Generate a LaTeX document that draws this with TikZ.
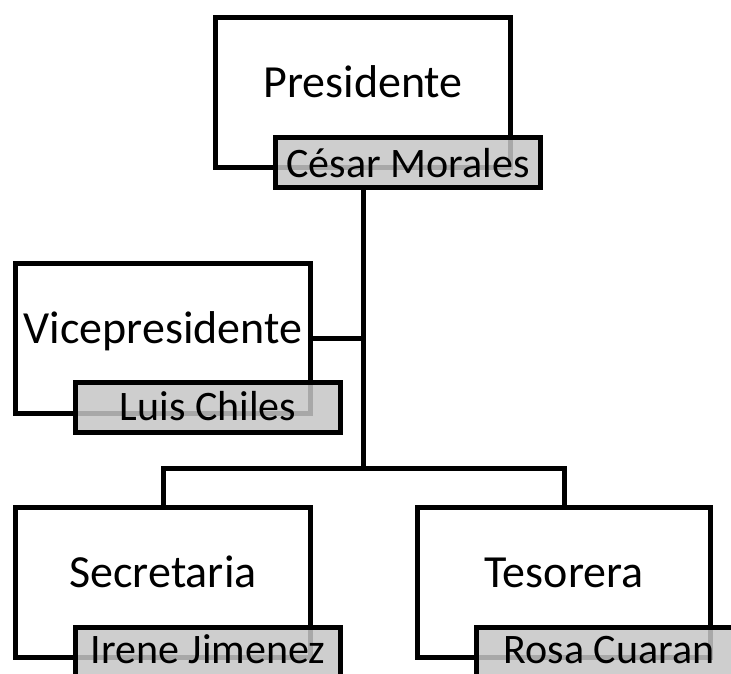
\documentclass[tikz,border=0pt]{standalone}
\usepackage{fontspec}
\setmainfont{Carlito}
\begin{document}
\begin{tikzpicture}[x=1pt,y=-1pt,
  rolebox/.style={draw=black, line width=5pt, fill=white, minimum width=295pt, minimum height=150pt, inner sep=0pt},
  roletext/.style={font=\fontsize{46}{50}\selectfont, inner sep=0pt, anchor=base},
  namebox/.style={draw=black, line width=5pt, fill={rgb,255:red,198;green,198;blue,198}, fill opacity=0.85, minimum width=265pt, minimum height=50pt, inner sep=0pt},
  nametext/.style={font=\fontsize{42}{46}\selectfont, inner sep=0pt, anchor=base, text depth=0pt},
  link/.style={draw=black, line width=5pt}]
\useasboundingbox (0,0) rectangle (731,673);
\clip (0,0) rectangle (731,673);
% role boxes
\node[rolebox] (p) at (363,92) {};
\node[rolebox] (v) at (163,338) {};
\node[rolebox] (s) at (163,582) {};
\node[rolebox, minimum width=293pt] (t) at (564,582) {};
\node[roletext] (pt) at (363,97) {Presidente};
\node[roletext] (vt) at (163,343) {Vicepresidente};
\node[roletext] (st) at (163,587) {Secretaria};
\node[roletext] (tt) at (564,587) {Tesorera};
% connectors
\coordinate (bar) at (363,468);
\path[link] (p.center |- 0,189) -- (bar);
\path[link] (v.east) -- (v.east -| bar);
\path[link] (s.north) |- (bar) -| (t.north);
% name boxes
\node[namebox] (pn) at (408,162) {};
\node[namebox] (vn) at (208,407) {};
\node[namebox] (sn) at (208,652) {};
\node[namebox] (tn) at (609,652) {};
\node[nametext] (pnt) at (408,177) {César Morales};
\node[nametext] (vnt) at (208,420) {Luis Chiles};
\node[nametext] (snt) at (208,663) {Irene Jimenez};
\node[nametext] (tnt) at (609,663) {Rosa Cuaran};
\end{tikzpicture}
\end{document}
